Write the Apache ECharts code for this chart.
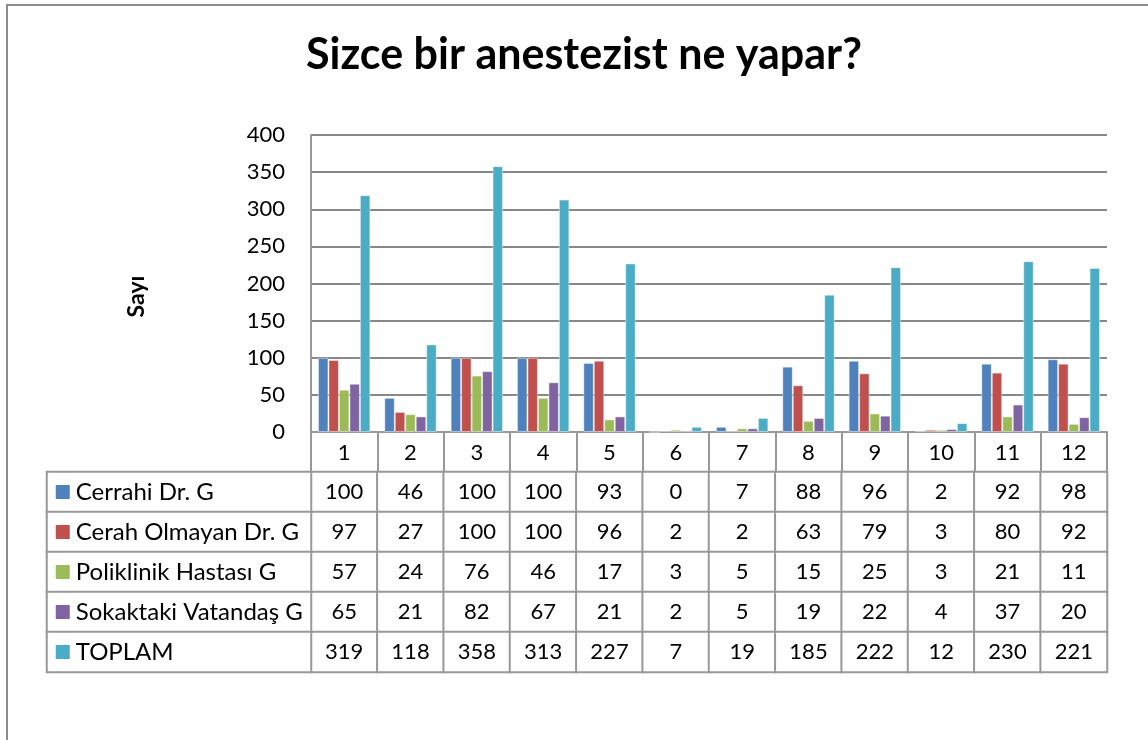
<!DOCTYPE html>
<html>
<head>
<meta charset="utf-8">
<script src="https://cdn.jsdelivr.net/npm/echarts@6/dist/echarts.min.js"></script>
<style>
  html, body { margin: 0; padding: 0; background: #fff; }
  #chart { width: 1148px; height: 740px; }
</style>
</head>
<body>
<div id="chart"></div>
<script>
// kategoriler ve seriler
const categories = ['1', '2', '3', '4', '5', '6', '7', '8', '9', '10', '11', '12'];
const seriesNames = ['Cerrahi Dr. G', 'Cerah Olmayan Dr. G', 'Poliklinik Hastası G', 'Sokaktaki Vatandaş G', 'TOPLAM'];
const cerrahi = [100, 46, 100, 100, 93, 0, 7, 88, 96, 2, 92, 98];
const cerahOlmayan = [97, 27, 100, 100, 96, 2, 2, 63, 79, 3, 80, 92];
const poliklinik = [57, 24, 76, 46, 17, 3, 5, 15, 25, 3, 21, 11];
const sokaktaki = [65, 21, 82, 67, 21, 2, 5, 19, 22, 4, 37, 20];
const toplam = [319, 118, 358, 313, 227, 7, 19, 185, 222, 12, 230, 221];
const yTicks = [0, 50, 100, 150, 200, 250, 300, 350, 400];

const colors = ['#4F81BD', '#C0504D', '#9BBB59', '#8064A2', '#4BACC6'];
const rows = [cerrahi, cerahOlmayan, poliklinik, sokaktaki, toplam];
const FONT = 'Lato';
const lineGray = '#999999';

// tablo hücreleri
const cellData = [];
rows.forEach((r, ri) => r.forEach((v, ci) => cellData.push([ci, ri, v])));
const nameCells = seriesNames.map((n, i) => [0, i, i]);

const rich = { t: { fontFamily: FONT, fontSize: 24, color: '#000', padding: [0, 0, 0, 6] } };
colors.forEach((c, i) => {
  rich['m' + i] = { width: 14, height: 14, backgroundColor: c };
});

const chart = echarts.init(document.getElementById('chart'));
const option = {
  animation: false,
  title: {
    text: 'Sizce bir anestezist ne yapar?',
    left: 579,
    textAlign: 'center',
    top: 29,
    textStyle: { fontFamily: FONT, fontSize: 43, fontWeight: 'bold', color: '#000' }
  },
  graphic: [{
    type: 'rect',
    shape: { x: 7, y: 5, width: 1200, height: 800 },
    style: { fill: 'none', stroke: '#8c8c8c', lineWidth: 2 },
    silent: true
  }],
  grid: [
    { left: 311, top: 135, width: 796, height: 297 },
    { left: 311, top: 472, width: 796, height: 200 },
    { left: 47, top: 472, width: 264, height: 200 }
  ],
  xAxis: [
    {
      type: 'category',
      gridIndex: 0,
      data: categories,
      axisLine: { lineStyle: { color: lineGray, width: 2 } },
      axisTick: { show: true, length: 40, interval: 0, lineStyle: { color: lineGray, width: 2 } },
      axisLabel: { fontFamily: FONT, fontSize: 22, color: '#000', margin: 10 }
    },
    { type: 'category', gridIndex: 1, data: categories, show: false },
    { type: 'category', gridIndex: 2, data: ['ad'], show: false }
  ],
  yAxis: [
    {
      type: 'value',
      gridIndex: 0,
      min: 0,
      max: 400,
      interval: 50,
      name: 'Sayı',
      nameLocation: 'middle',
      nameGap: 163,
      nameTextStyle: { fontFamily: FONT, fontSize: 23, fontWeight: 'bold', color: '#000', padding: [0, 26, 0, 0] },
      axisLine: { show: true, lineStyle: { color: lineGray, width: 2 } },
      axisTick: { show: false },
      axisLabel: { fontFamily: FONT, fontSize: 22, color: '#000', margin: 26 },
      splitLine: { lineStyle: { color: '#888888', width: 2 } }
    },
    { type: 'category', gridIndex: 1, data: seriesNames, inverse: true, show: false },
    { type: 'category', gridIndex: 2, data: seriesNames, inverse: true, show: false }
  ],
  series: [
    ...rows.map((r, i) => ({
      name: seriesNames[i],
      type: 'bar',
      xAxisIndex: 0,
      yAxisIndex: 0,
      data: r,
      barGap: '0%',
      barCategoryGap: '21%',
      itemStyle: { color: colors[i], borderColor: 'rgba(255,255,255,0.45)', borderWidth: 1 }
    })),
    {
      type: 'heatmap',
      xAxisIndex: 1,
      yAxisIndex: 1,
      data: cellData,
      itemStyle: { color: '#fff', borderColor: lineGray, borderWidth: 2 },
      label: {
        show: true,
        fontFamily: FONT,
        fontSize: 22,
        color: '#000',
        formatter: p => p.value[2]
      },
      emphasis: { disabled: true }
    },
    {
      type: 'heatmap',
      xAxisIndex: 2,
      yAxisIndex: 2,
      data: nameCells,
      itemStyle: { color: '#fff', borderColor: lineGray, borderWidth: 2 },
      label: {
        show: true,
        position: 'insideLeft',
        distance: 10,
        formatter: p => '{m' + p.value[2] + '| }{t|' + seriesNames[p.value[2]] + '}',
        rich: rich
      },
      emphasis: { disabled: true }
    }
  ]
};
chart.setOption(option);
</script>
</body>
</html>
